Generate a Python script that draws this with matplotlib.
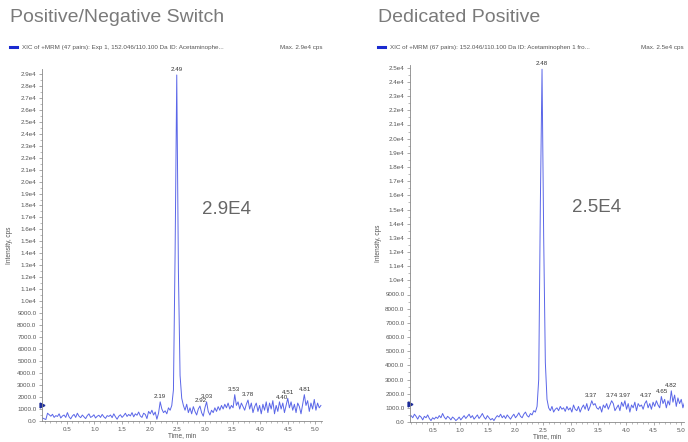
import numpy as np
import matplotlib
matplotlib.use("Agg")
import matplotlib.pyplot as plt
from matplotlib.ticker import MultipleLocator, FuncFormatter

plt.rcParams['font.family'] = ['Liberation Sans', 'DejaVu Sans']

# --- Data: XIC intensities (cps), one scan every 0.03 min ---

SCAN_STEP = 0.03

# Positive/Negative switch run, first scan at 0.06 min
switch_start = 0.06
switch_baseline = [
    250, 180, 120, 650, 520, 400, 560, 300, 450, 380,
    600, 250, 420, 500, 300, 700, 350, 180, 420, 550,
    300, 650, 400, 280, 500, 350, 200, 450, 600, 300,
    380, 520, 250, 400, 480, 300, 550, 350, 220, 450,
    380, 500, 280, 600, 350, 150, 400, 520, 300, 450,
    650, 380, 550, 420, 700, 350, 600, 480, 750, 420,
    300, 650, 550, 200, 800,
]
switch_rise = [600, 900, 500, 750, 150, 650, 1600, 1000, 700, 850, 600, 1100, 900, 1300]
switch_peak = [2600, 14000, 28900, 12500, 3800, 1900, 1300]
switch_tail = [
    900, 1400, 700, 1100, 600, 1200, 800, 500, 1000, 1250,
    700, 400, 1100, 1600, 800, 500, 900, 700, 1100, 800,
    1200, 900, 1300, 1000, 1400, 1100, 1500, 1000, 1300, 1100,
    2200, 1300, 1600, 1000, 1500, 1200, 900, 1400, 1750, 1000,
    1500, 700, 1200, 1500, 800, 1300, 600, 1400, 900, 1600,
    700, 1500, 1000, 1700, 600, 1300, 800, 1600, 1000, 1500,
    700, 1300, 1900, 1100, 1600, 900, 1400, 700, 1500, 1200,
    600, 1400, 2200, 1300, 1700, 800, 1500, 1000, 1800, 900,
    1500, 1100, 1300,
]
switch_labels = ["2.19", "2.49", "2.92", "3.03", "3.53", "3.78", "4.40", "4.51", "4.81"]

# Dedicated positive run, first scan at 0.05 min
positive_start = 0.05
positive_baseline = [
    500, 350, 450, 300, 550, 400, 200, 450, 350, 150,
    400, 300, 500, 250, 100, 300, 200, 350, 250, 450,
    300, 600, 350, 200, 400, 300, 150, 350, 250, 100,
    200, 350, 150, 300, 450, 250, 400, 550, 300, 450,
    200, 350, 500, 250, 400, 600, 350, 200, 450, 300,
    150, 250, 100, 300, 450, 350, 550, 300, 450, 250,
    500, 350, 200, 400, 550, 300, 450, 650, 400, 300,
    550, 700, 450, 350, 600, 500, 800, 700, 1100,
]
positive_peak = [3000, 15500, 24900, 13000, 4200, 1600, 1000]
positive_tail = [
    800, 1100, 700, 900, 1000, 800, 1100, 900, 1000, 750,
    1100, 850, 1000, 700, 1200, 900, 800, 1100, 700, 1000,
    1200, 900, 1300, 800, 1100, 1500, 1200, 1300, 1000, 900,
    1100, 700, 1200, 1000, 1300, 900, 1200, 1500, 1300, 800,
    1000, 1200, 800, 1400, 1100, 1500, 900, 1300, 700, 1200,
    1000, 1400, 800, 1300, 1100, 1200, 900, 1300, 1500, 1000,
    1300, 900, 1400, 1100, 1500, 1200, 1000, 1800, 1300, 1600,
    1000, 1500, 1200, 2200, 1400, 1900, 1100, 1700, 1300, 1600,
    1000, 1400,
]
positive_labels = ["2.48", "3.37", "3.74", "3.97", "4.37", "4.65", "4.82"]

TRACE_COLOR = '#5a66e8'
TEXT_GRAY = '#555555'


def y_tick_text(value, _pos):
    """Analyst style intensity labels: 9000.0 below 1e4, 1.0e4 above."""
    if value >= 10000:
        return f"{value / 10000:.1f}e4"
    return f"{value:.1f}"


def draw_panel(fig, rect, title, title_x, legend_text, max_text, start, intensity,
               labels, xlim, ylim, big_text, big_x, ylabel_x):
    """Draws one chromatogram panel with its header texts."""
    intensity = np.asarray(intensity, dtype=float)
    time = np.round(start + SCAN_STEP * np.arange(len(intensity)), 2)

    ax = fig.add_axes(rect)
    ax.plot(time, intensity, color=TRACE_COLOR, lw=0.7)
    ax.set_xlim(*xlim)
    ax.set_ylim(*ylim)

    for side in ('top', 'right'):
        ax.spines[side].set_visible(False)
    for side in ('left', 'bottom'):
        ax.spines[side].set_color('#888888')
        ax.spines[side].set_linewidth(0.6)

    ax.xaxis.set_major_locator(MultipleLocator(0.5))
    ax.xaxis.set_minor_locator(MultipleLocator(0.1))
    ax.yaxis.set_major_locator(MultipleLocator(1000))
    ax.yaxis.set_minor_locator(MultipleLocator(500))
    ax.xaxis.set_major_formatter(FuncFormatter(lambda v, p: f"{v:.1f}"))
    ax.yaxis.set_major_formatter(FuncFormatter(y_tick_text))
    ax.tick_params(which='major', length=2.5, width=0.5, color='#888888',
                   labelsize=4.5, labelcolor=TEXT_GRAY, pad=1.5)
    ax.tick_params(which='minor', length=1.5, width=0.4, color='#888888')

    ax.set_xlabel("Time, min", fontsize=4.7, color=TEXT_GRAY, labelpad=0.5)
    fig.text(ylabel_x, rect[1] + rect[3] * 0.5, "Intensity, cps", rotation=90,
             fontsize=4.7, color=TEXT_GRAY, ha='center', va='center')

    # small threshold marker on the intensity axis
    ax.plot([xlim[0]], [1300], marker='>', ms=3.5, color='#1a2a9a', clip_on=False)

    # retention time labels above local maxima
    for lab in labels:
        rt = float(lab)
        near = np.abs(time - rt) <= 0.02
        top = intensity[near].max()
        ax.text(rt, top + ylim[1] * 0.008, lab, fontsize=4.5, color='#333333',
                ha='center', va='bottom')

    ax.text(big_x, 0.60, big_text, transform=ax.transAxes, fontsize=13.5,
            color='#666666', ha='center', va='center')

    # header: title, legend swatch, max intensity
    fig.text(title_x, 1 - 18 / 442, title, fontsize=14, color='#7a7a7a',
             ha='left', va='center')
    sw_x = title_x
    fig.add_artist(plt.Line2D([sw_x, sw_x + 7 / 688], [1 - 47 / 442] * 2,
                              color='#1a2ad0', lw=2.2))
    fig.text(sw_x + 12 / 688, 1 - 47 / 442, legend_text, fontsize=4.5,
             color=TEXT_GRAY, ha='left', va='center')
    fig.text(min(rect[0] + rect[2], 684 / 688), 1 - 47 / 442, max_text, fontsize=4.5,
             color=TEXT_GRAY, ha='right', va='center')
    return ax


def main():
    fig = plt.figure(figsize=(6.88, 4.42), dpi=100)

    switch_values = switch_baseline + switch_rise + switch_peak + switch_tail
    positive_values = positive_baseline + positive_peak + positive_tail

    draw_panel(fig, [42 / 688, 21 / 442, 280 / 688, 352 / 442],
               "Positive/Negative Switch", 10 / 688,
               "XIC of +MRM (47 pairs): Exp 1, 152.046/110.100 Da ID: Acetaminophe...",
               "Max. 2.9e4 cps", switch_start, switch_values, switch_labels,
               (0.05, 5.12), (0, 29400), "2.9E4", 0.66, 10 / 688)

    draw_panel(fig, [410 / 688, 20 / 442, 274 / 688, 357 / 442],
               "Dedicated Positive", 378 / 688,
               "XIC of +MRM (67 pairs): 152.046/110.100 Da ID: Acetaminophen 1 fro...",
               "Max. 2.5e4 cps", positive_start, positive_values, positive_labels,
               (0.09, 5.05), (0, 25200), "2.5E4", 0.68, 378 / 688)

    fig.savefig("out.png", dpi=100)
    plt.close(fig)


if __name__ == "__main__":
    main()
